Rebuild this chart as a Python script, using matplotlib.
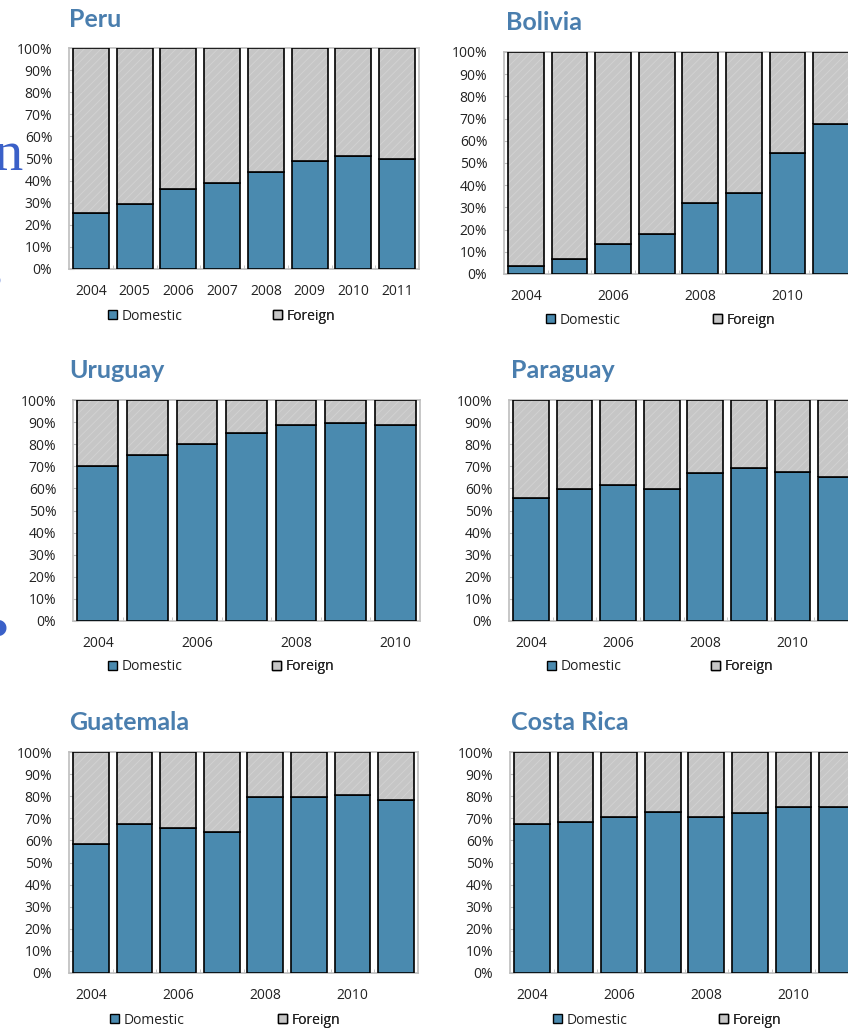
import matplotlib
matplotlib.use("Agg")
import matplotlib.pyplot as plt
from matplotlib.patches import Patch

W, H = 848, 1028

years_all = ["2004", "2005", "2006", "2007", "2008", "2009", "2010", "2011"]
years_uruguay = years_all[:7]

# Domestic share (%) of the total; foreign is the remainder to 100%
peru_domestic = [25.3, 29.6, 36.0, 39.1, 44.0, 48.7, 51.3, 49.9]
bolivia_domestic = [3.8, 6.9, 13.4, 18.2, 32.2, 36.4, 54.3, 67.7]
uruguay_domestic = [70.2, 75.1, 80.1, 84.9, 88.5, 89.6, 88.5]
paraguay_domestic = [55.5, 59.6, 61.4, 59.6, 66.8, 69.2, 67.4, 65.0]
guatemala_domestic = [58.3, 67.5, 65.7, 63.9, 79.5, 79.5, 80.6, 78.5]
costa_rica_domestic = [67.5, 68.1, 70.7, 72.9, 70.7, 72.3, 75.3, 74.9]

series_names = ["Domestic", "Foreign"]
y_ticks = [0, 10, 20, 30, 40, 50, 60, 70, 80, 90, 100]

DOM_COLOR = "#4A8AAF"
FOR_COLOR = "#C6C6C6"
HATCH_COLOR = "#D3D3D3"
TITLE_COLOR = "#4A7EAE"
SPINE_COLOR = "#BEBEBE"
TEXT_COLOR = "#222222"

plt.rcParams["hatch.linewidth"] = 0.6
TICK_FONT = "Open Sans"
TITLE_FONT = "Lato"

fig = plt.figure(figsize=(W / 100, H / 100), dpi=100)
fig.patch.set_facecolor("white")


def fx(px):
    return px / W


def fy(py):
    return 1 - py / H


# (title, years, domestic, label step, axes box px [l, t, r, b], title xy px, legend px)
panels = [
    ("Peru", years_all, peru_domestic, 1, (69, 48, 419, 269), (69, 27), (108, 316, 273)),
    ("Bolivia", years_all, bolivia_domestic, 2, (504, 52, 853, 274), (506, 30), (546, 320, 713)),
    ("Uruguay", years_uruguay, uruguay_domestic, 2, (73, 400, 420, 621), (69, 378), (108, 667, 272)),
    ("Paraguay", years_all, paraguay_domestic, 2, (509, 400, 858, 621), (511, 378), (547, 667, 711)),
    ("Guatemala", years_all, guatemala_domestic, 2, (69, 752, 418, 973), (69, 730), (110, 1020, 278)),
    ("Costa Rica", years_all, costa_rica_domestic, 2, (510, 752, 859, 973), (511, 730), (553, 1020, 719)),
]

for title, years, dom, step, box, tpos, lpos in panels:
    l, t, r, b = box
    ax = fig.add_axes([fx(l), fy(b), fx(r - l), (b - t) / H])
    n = len(years)
    xs = list(range(n))
    foreign = [100 - d for d in dom]
    width = 0.82

    ax.bar(xs, dom, width=width, color=DOM_COLOR, edgecolor="black", linewidth=1.2, zorder=3)
    ax.bar(xs, foreign, bottom=dom, width=width, color=FOR_COLOR, edgecolor=HATCH_COLOR,
           hatch="////", linewidth=0, zorder=3)
    ax.bar(xs, foreign, bottom=dom, width=width, fill=False, edgecolor="black",
           linewidth=1.2, zorder=4)

    ax.set_xlim(-0.5, n - 0.5)
    ax.set_ylim(0, 100)
    ax.set_yticks(y_ticks)
    ax.set_yticklabels([f"{v}%" for v in y_ticks], fontsize=10, family=TICK_FONT, color=TEXT_COLOR)
    ax.tick_params(axis="y", direction="in", length=3.5, color=SPINE_COLOR, pad=12)

    ax.set_xticks(xs[::step])
    ax.set_xticklabels(years[::step], fontsize=10, family=TICK_FONT, color=TEXT_COLOR)
    ax.tick_params(axis="x", length=0, pad=11)
    ax.set_xticks([k + 0.5 for k in range(n - 1)], minor=True)
    ax.tick_params(axis="x", which="minor", direction="in", length=3, color=SPINE_COLOR)

    for sp in ax.spines.values():
        sp.set_color(SPINE_COLOR)
        sp.set_linewidth(1.2)
        sp.set_zorder(2)

    fig.text(fx(tpos[0]), fy(tpos[1]), title, fontsize=18, fontweight="bold",
             family=TITLE_FONT, color=TITLE_COLOR, ha="left", va="baseline")

    lx_dom, ly, lx_for = lpos
    for name, fc, x0 in ((series_names[0], DOM_COLOR, lx_dom), (series_names[1], FOR_COLOR, lx_for)):
        leg = ax.legend(handles=[Patch(facecolor=fc, edgecolor="black", linewidth=1.0, label=name)],
                        loc="center left", bbox_to_anchor=(fx(x0), fy(ly)),
                        bbox_transform=fig.transFigure, frameon=False, borderpad=0,
                        borderaxespad=0, handlelength=0.65, handleheight=0.65,
                        handletextpad=0.3, prop={"family": TICK_FONT, "size": 10})
        for txt in leg.get_texts():
            txt.set_color(TEXT_COLOR)
        ax.add_artist(leg)

# Fragments of slide lettering showing at the left edge
fig.text(fx(23), fy(170), "n", fontsize=42, family="Liberation Serif", color="#3A60C8",
         ha="right", va="baseline")
fig.text(fx(3), fy(281), ",", fontsize=36, family="Liberation Serif", color="#3A60C8",
         ha="right", va="baseline")
fig.text(fx(-2), fy(634), "•", fontsize=40, family="DejaVu Sans", color="#3A60C8",
         ha="center", va="center")

fig.savefig("out.png", dpi=100, facecolor="white")
